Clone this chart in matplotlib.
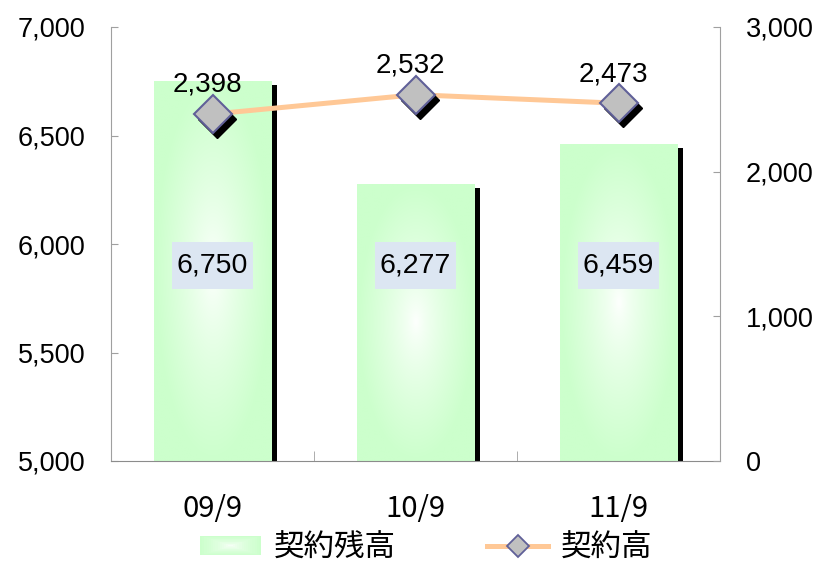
import numpy as np
import matplotlib
matplotlib.use('Agg')
import matplotlib.pyplot as plt
from matplotlib.patches import Rectangle
from matplotlib.path import Path
from matplotlib.transforms import offset_copy
from matplotlib.ticker import FuncFormatter, FixedLocator
import matplotlib.patheffects as pe
from matplotlib.legend_handler import HandlerBase
from matplotlib.lines import Line2D

# ---- data ----
categories = ['09/9', '10/9', '11/9']
balance = [6750, 6277, 6459]      # 契約残高 (left axis)
contracts = [2398, 2532, 2473]    # 契約高 (right axis)
bar_name = '契約残高'
line_name = '契約高'
left_ticks = [5000, 5500, 6000, 6500, 7000]
right_ticks = [0, 1000, 2000, 3000]

# ---- style ----
NUM_FONT = ['Liberation Sans', 'DejaVu Sans']
JP_FONT = ['Noto Sans CJK JP', 'DejaVu Sans']
GREEN = np.array([0.80, 1.0, 0.80])
WHITE = np.array([1.0, 1.0, 1.0])
LINE_C = '#ffc896'
MARK_FC = '#c0c0c0'
MARK_EC = '#606098'
BOX_C = '#dce6f2'
AX_C = '#a0a0a0'
LEFT_MIN, LEFT_MAX = 5000, 7000
RIGHT_MIN, RIGHT_MAX = 0, 3000
LABEL_Y = 5900

fig = plt.figure(figsize=(8.18, 5.62), dpi=100)
ax = fig.add_axes([111/818, 101/562, 609/818, 434/562])
ax2 = ax.twinx()
x = np.arange(len(categories))

# gradient image
M, N = 60, 200
u = np.linspace(-1, 1, M)
v = np.linspace(-1, 1, N)
U, V = np.meshgrid(u, v)
d = np.clip(np.sqrt(U**2 + V**2), 0, 1) ** 0.75
grad = WHITE[None, None, :] * (1 - d[..., None]) + GREEN[None, None, :] * d[..., None]

heights = [b - LEFT_MIN for b in balance]
bars = ax.bar(x, heights, bottom=LEFT_MIN, width=0.577, color=GREEN, edgecolor='none',
              zorder=2,
              path_effects=[pe.SimplePatchShadow(offset=(4.3, -2.9), shadow_rgbFace='k', alpha=1.0),
                            pe.Normal()])
for rect in bars:
    x0, y0 = rect.get_x(), rect.get_y()
    w, h = rect.get_width(), rect.get_height()
    im = ax.imshow(grad, extent=(x0, x0 + w, y0, y0 + h), aspect='auto', origin='lower',
                   interpolation='bilinear', zorder=2.1)
    im.set_clip_path(rect)


def label_box(x0, y0, width, height, mutation_size):
    px = 0.16 * mutation_size
    py = 0.36 * mutation_size
    xa, xb = x0 - px, x0 + width + px
    ya, yb = y0 - py, y0 + height + py
    return Path([(xa, ya), (xb, ya), (xb, yb), (xa, yb), (xa, ya)],
                [Path.MOVETO, Path.LINETO, Path.LINETO, Path.LINETO, Path.CLOSEPOLY])


for xi, b in zip(x, balance):
    ax.text(xi, LABEL_Y, f'{b:,}', ha='center', va='center', fontsize=20.5, family=NUM_FONT,
            bbox=dict(boxstyle=label_box, fc=BOX_C, ec='none'), zorder=5)

ax.set_xlim(-0.5, len(categories) - 0.5)
ax.set_ylim(LEFT_MIN, LEFT_MAX)
ax2.set_ylim(RIGHT_MIN, RIGHT_MAX)

# line + markers
ax2.plot(x, contracts, color=LINE_C, lw=3.6, zorder=2, solid_capstyle='butt')
shadow_tr = offset_copy(ax2.transData, fig=fig, x=4, y=-5, units='dots')
ax2.plot(x, contracts, ls='none', marker='D', ms=19, mfc='k', mec='k', transform=shadow_tr, zorder=3)
ax2.plot(x, contracts, ls='none', marker='D', ms=19, mfc=MARK_FC, mec=MARK_EC, mew=1.5, zorder=4)
for xi, c in zip(x, contracts):
    ax2.annotate(f'{c:,}', (xi, c), xytext=(-3.5, 21), textcoords='offset points',
                 ha='center', va='center', fontsize=20, family=NUM_FONT, zorder=5)

# axes styling
fmt = FuncFormatter(lambda val, pos: f'{int(val):,}')
ax.yaxis.set_major_locator(FixedLocator(left_ticks))
ax.yaxis.set_major_formatter(fmt)
ax2.yaxis.set_major_locator(FixedLocator(right_ticks))
ax2.yaxis.set_major_formatter(fmt)

ax.set_xticks(x)
ax.set_xticklabels(categories, family=JP_FONT, fontsize=21)
ax.set_xticks([i + 0.5 for i in x[:-1]], minor=True)
ax.tick_params(axis='x', which='major', length=0, pad=23.5)
ax.tick_params(axis='x', which='minor', direction='in', length=7.5, color=AX_C)
ax.tick_params(axis='y', direction='in', length=5, color=AX_C, pad=18.5, labelsize=19.5)
ax2.tick_params(axis='y', direction='in', length=5, color=AX_C, pad=18.5, labelsize=19.5)
for lab in ax.get_yticklabels() + ax2.get_yticklabels():
    lab.set_family(NUM_FONT)

for s in ['top', 'right']:
    ax.spines[s].set_visible(False)
for s in ['top', 'left', 'bottom']:
    ax2.spines[s].set_visible(False)
ax.spines['left'].set_color(AX_C)
ax.spines['bottom'].set_color('#8c8c8c')
ax2.spines['right'].set_color(AX_C)


class GradHandler(HandlerBase):
    def create_artists(self, legend, orig_handle, xdescent, ydescent, width, height, fontsize, trans):
        arts = []
        n = 14
        for i in range(n):
            f = i / n
            t = (1 - f) ** 0.6
            c = WHITE * (1 - t) + GREEN * t
            r = Rectangle((-xdescent + f * width / 2, -ydescent + f * height / 2),
                          width * (1 - f), height * (1 - f), facecolor=c, edgecolor='none',
                          transform=trans)
            arts.append(r)
        return arts


bar_handle = Rectangle((0, 0), 1, 1, facecolor=GREEN)
line_handle = Line2D([], [], color=LINE_C, lw=3.6, marker='D', ms=11, mfc=MARK_FC, mec=MARK_EC, mew=1.3)
leg = fig.legend([bar_handle, line_handle], [bar_name, line_name], loc='center',
                 bbox_to_anchor=(426/818, 14/562), ncol=2, frameon=False,
                 prop={'family': JP_FONT, 'size': 22}, handlelength=2.0, handleheight=0.6,
                 handletextpad=0.4, columnspacing=3.0,
                 handler_map={Rectangle: GradHandler()})

fig.savefig('out.png', dpi=100)
